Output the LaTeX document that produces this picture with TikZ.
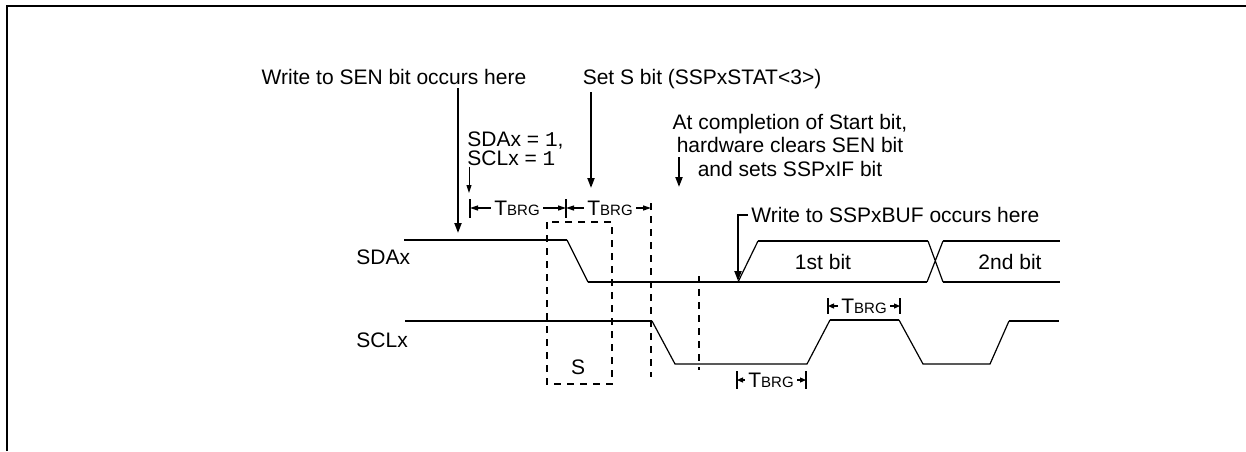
\documentclass[tikz,border=0pt]{standalone}
\usepackage{fontspec}
\setmainfont{Liberation Sans}
\setmonofont{Liberation Mono}
\usetikzlibrary{arrows.meta,calc}

\newcommand{\tbrg}{T{\fontsize{7.5}{8}\selectfont BRG}}

\begin{document}
\begin{tikzpicture}[x=0.5pt,y=-0.5pt,
    every node/.style={font=\fontsize{10.5}{11.75}\selectfont, inner sep=1.5pt},
    sig/.style={line width=1pt},
    slope/.style={line width=0.6pt},
    dashline/.style={line width=1pt, dash pattern=on 3.5pt off 3pt},
    pointer/.style={line width=1pt, -{Triangle[length=5pt,width=3.5pt]}},
    thinptr/.style={line width=0.5pt, -{Triangle[length=4pt,width=2.5pt]}},
    dim/.style={line width=0.6pt, -{Triangle[length=4pt,width=2.5pt]}},
    smalldim/.style={line width=0.6pt, -{Triangle[length=3pt,width=2.5pt]}}]

\useasboundingbox (0,0) rectangle (1246,451);

%% Frame - only top and left edge
\draw[sig] (7,451) -- (7,6) -- (1246,6);

%% Labels
\node[anchor=base] (senlbl) at (394,84.5) {Write to SEN bit occurs here};
\node[anchor=base] (setslbl) at (702,84.5) {Set S bit (SSPxSTAT<3>)};
\node[align=center] (donelbl) at (790,145) {At completion of Start bit,\\hardware clears SEN bit\\and sets SSPxIF bit};
\node[anchor=base west, inner sep=0.5pt] (sdaone) at (466,146) {SDAx = \texttt{1},};
\node[anchor=base west, inner sep=0.5pt] (sclone) at (466,165) {SCLx = \texttt{1}};
\node[anchor=base west] (buflbl) at (748,222.5) {Write to SSPxBUF occurs here};
\node[anchor=base west] (sdalbl) at (353,264.5) {SDAx};
\node[anchor=base west] (scllbl) at (353,347.5) {SCLx};
\node[anchor=base] (slbl) at (578,374.5) {S};
\node[anchor=base] (bitone) at (823,269.5) {1st bit};
\node[anchor=base] (bittwo) at (1010,269.5) {2nd bit};

%% SDA line
\draw[sig] (404,240) -- (567,240);
\draw[slope] (567,240) -- (588,282);
\draw[sig] (588,282) -- (927,282);
\draw[slope] (738,282) -- (758,241);
\draw[sig] (758,241) -- (928,241);
\draw[slope] (928,241) -- (943,282) (927,282) -- (943,241);
\draw[sig] (943,241) -- (1060,241) (943,282) -- (1060,282);

%% SCL line
\draw[sig] (405,321) -- (652,321);
\draw[slope] (652,321) -- (675,364) -- (807,364) -- (830,320);
\draw[sig] (830,320) -- (899,320);
\draw[slope] (899,320) -- (923,364) -- (990,364) -- (1009,321);
\draw[sig] (1009,321) -- (1059,321);

%% Dashed marks
\draw[dashline] (547,222) rectangle (612,384);
\draw[dashline] (651,203) -- (651,377);
\draw[dashline] (699,276) -- (699,370);

%% Pointers
\coordinate (sentip) at (458,233);
\draw[pointer] (senlbl.south -| sentip) -- (sentip);
\coordinate (settip) at (591,188);
\draw[pointer] (setslbl.south -| settip) -- (settip);
\coordinate (donetop) at (679,157);
\coordinate (donetip) at (679,187);
\draw[pointer] (donetop) -- (donetip);
\coordinate (onetip) at (469,193);
\draw[thinptr] (sclone.south -| onetip) -- (onetip);
\coordinate (sdarise) at (738,281);
\draw[pointer] (buflbl.west) -| (sdarise);

%% TBRG - first row
\coordinate (ta) at (470,208);
\coordinate (tb) at (566,208);
\coordinate (tc) at (651,208);
\draw[slope] (470,199) -- (470,218) (566,199) -- (566,218);
\node (tbone) at (517,208) {\tbrg};
\node (tbtwo) at (610,208) {\tbrg};
\draw[dim] (tbone) -- (ta);
\draw[dim] (tbone) -- (tb);
\draw[dim] (tbtwo) -- (tb);
\draw[dim] (tbtwo) -- (tc);

%% TBRG - SCL high
\coordinate (hia) at (828,306);
\coordinate (hib) at (900,306);
\draw[slope] (828,298) -- (828,314) (900,298) -- (900,314);
\node (tbhi) at (864,306) {\tbrg};
\draw[smalldim] (tbhi) -- (hia);
\draw[smalldim] (tbhi) -- (hib);

%% TBRG - SCL low
\coordinate (loa) at (737,380);
\coordinate (lob) at (806,380);
\draw[slope] (737,371) -- (737,389) (806,371) -- (806,389);
\node (tblo) at (771,380) {\tbrg};
\draw[smalldim] (tblo) -- (loa);
\draw[smalldim] (tblo) -- (lob);
\end{tikzpicture}
\end{document}
